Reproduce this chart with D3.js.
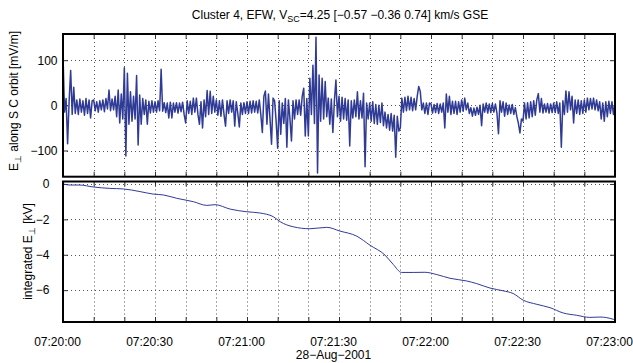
<!DOCTYPE html>
<html>
<head>
<meta charset="utf-8">
<script src="https://cdn.jsdelivr.net/npm/d3@7"></script>
<style>
  body { margin: 0; background: #fff; }
  text { font-family: "Liberation Sans", Arial, sans-serif; fill: #000; }
</style>
</head>
<body>
<div id="chart"></div>
<script>
// E-field along SC orbit [mV/m], one sample every 0.5 s from 07:20:00
var eStep = 0.5;
var eField = [
  112, -15, 15, -85, 10, 77, -20, 40, -18, 12, -20, 14, -15, 10, -22, 15, -18, 12, -28, 10,
  12, -12, 8, -15, 10, -10, 12, -14, 15, -8, 34, -12, 14, -10, 20, -25, 34, -39, 25, -30,
  83, -112, 71, -42, 30, -35, 20, -30, 66, -88, 23, -42, 15, -20, 12, -42, 9, -17, 10, -15,
  8, -15, 10, -12, 80, -13, 6, -16, 5, -28, 7, -28, 5, -15, 6, -17, 5, -14, 7, -20,
  -39, 10, -18, 9, -20, 16, -15, 16, -20, -42, 8, -50, 12, -25, 33, -20, 31, -18, 20, -15,
  12, -22, 10, -24, 12, -20, -46, 10, -18, 12, -15, 10, -46, 8, -18, -48, 5, -20, 6, -18,
  8, -18, 9, -17, 10, -15, 9, -17, 12, -20, -60, 20, 32, -42, 25, -30, -86, 16, 10, -35,
  -95, 10, -64, 5, -40, 15, -93, 12, -30, -79, 10, -30, 12, -20, 12, -22, 20, 38, -68, 15,
  -68, 60, -20, 89, -40, 151, -150, 67, -35, 60, -30, 53, -25, 16, -42, 14, -60, 10, 56, -25,
  20, -35, 18, -30, 15, -33, 12, -90, 10, -28, 12, -25, 30, -30, 10, -28, 27, -136, 5, -30,
  5, -35, 8, -40, 2, -42, 0, -38, 5, -45, -15, -50, -20, -55, -18, -57, -22, -115, -24, -57,
  -50, 16, -15, 18, -12, 20, -10, 18, -12, 15, -10, 20, 42, 31, -10, 5, -18, 5, -20, 5,
  3, -17, 2, -16, 4, -18, 3, -15, 5, -50, 25, -15, 20, -20, 9, -18, 9, -20, 8, -15,
  12, -13, 16, -10, 5, -18, -5, -24, -6, -22, -4, -20, 0, -45, 3, -15, 5, -17, 3, -16,
  4, -15, 3, -17, -63, 10, -15, 8, -24, 5, -20, 1, -18, 2, -20, -5, -25, -40, -61, -30,
  -35, 5, -30, 6, -28, 8, -25, 10, -22, 12, 26, -15, 15, -17, 3, -15, 4, -17, 3, -16,
  5, -16, 8, -18, 5, -93, 10, -20, 32, -15, 30, -10, 20, -39, 12, -18, 12, -20, 10, -18,
  12, -15, 16, -10, 15, -8, 16, -10, 12, -12, 8, -30, 5, -35, 8, -25, 9, -18, 8, -20, 5
];

// integrated E [kV], seconds after 07:20:00
var intTime = [0, 2.3, 5.5, 9.9, 15.3, 19.7, 25.1, 29.4, 32.7, 37.1, 42.5, 46.9, 49.6, 54.5,
  59.9, 64.2, 68.6, 70.8, 75.1, 80.5, 86, 90.3, 95.8, 100.1, 105, 107.7, 110.4, 114.2, 118,
  121.9, 126.2, 131.6, 134.9, 139.2, 143.6, 146.8, 150.1, 154.5, 158.8, 163.1, 167.5, 171.8,
  175.1, 179.5, 180];
var intField = [0, -0.06, -0.06, -0.17, -0.25, -0.28, -0.43, -0.57, -0.62, -0.81, -1.0, -1.21,
  -1.17, -1.42, -1.57, -1.64, -1.85, -2.13, -2.42, -2.53, -2.45, -2.66, -2.95, -3.46, -4.02,
  -4.55, -5.0, -5.0, -4.99, -5.12, -5.33, -5.48, -5.63, -5.88, -6.04, -6.19, -6.57, -6.8,
  -6.99, -7.29, -7.42, -7.54, -7.52, -7.65, -7.68];

var topTicks = [-100, 0, 100];
var botTicks = [-6, -4, -2, 0];
var xLabelSeconds = [0, 30, 60, 90, 120, 150, 180];
var dateLabel = "28\u2212Aug\u22122001";

var t0 = Date.UTC(2001, 7, 28, 7, 20, 0);
function toTime(s) { return new Date(t0 + s * 1000); }

var width = 633, height = 363;
var left = 63, right = 615;
var top1 = 34, bot1 = 176.7, top2 = 181.5, bot2 = 322;
var lineColor = "#2f3b95";

var svg = d3.select("#chart")
  .append("svg")
  .attr("width", width)
  .attr("height", height);

var x = d3.scaleUtc()
  .domain([toTime(0), toTime(180)])
  .range([left, right]);

var y1 = d3.scaleLinear().domain([-158, 158]).range([bot1, top1]);
var y2 = d3.scaleLinear().domain([-7.8, 0.14]).range([bot2, top2]);

var every10 = d3.utcSecond.every(10);
var xTicks = x.ticks(every10);
var labelSet = new Set(xLabelSeconds.map(s => +toTime(s)));

function panel(y, yTicks, yTop, yBot, labelPad, clipId) {
  var g = svg.append("g");

  // dotted grid
  g.selectAll(".vgrid")
    .data(xTicks.slice(1, -1))
    .enter().append("line")
    .attr("x1", d => Math.round(x(d)) + 0.5)
    .attr("x2", d => Math.round(x(d)) + 0.5)
    .attr("y1", yTop).attr("y2", yBot)
    .attr("stroke", "#555")
    .attr("stroke-dasharray", "1,3");

  g.selectAll(".hgrid")
    .data(yTicks)
    .enter().append("line")
    .attr("x1", left).attr("x2", right)
    .attr("y1", d => Math.round(y(d)) + 0.5)
    .attr("y2", d => Math.round(y(d)) + 0.5)
    .attr("stroke", "#555")
    .attr("stroke-dasharray", "1,3");

  // inward ticks on all four sides
  var ax = g.append("g").attr("transform", "translate(0," + yBot + ")")
    .call(d3.axisBottom(x).ticks(every10).tickSize(-5).tickSizeOuter(0).tickFormat(""));
  var axT = g.append("g").attr("transform", "translate(0," + yTop + ")")
    .call(d3.axisTop(x).ticks(every10).tickSize(-5).tickSizeOuter(0).tickFormat(""));
  var ayL = g.append("g").attr("transform", "translate(" + left + ",0)")
    .call(d3.axisLeft(y).tickValues(yTicks).tickSize(-5).tickSizeOuter(0)
      .tickPadding(labelPad).tickFormat(d3.format("d")));
  var ayR = g.append("g").attr("transform", "translate(" + right + ",0)")
    .call(d3.axisRight(y).tickValues(yTicks).tickSize(-5).tickSizeOuter(0).tickFormat(""));

  [ax, axT, ayL, ayR].forEach(a => {
    a.select(".domain").remove();
    a.selectAll("line").attr("stroke", "#333");
  });
  ayL.selectAll("text")
    .style("font-size", "12px")
    .style("font-family", "'Liberation Sans', Arial, sans-serif")
    .attr("fill", "#000");

  svg.append("clipPath").attr("id", clipId)
    .append("rect")
    .attr("x", left).attr("y", yTop)
    .attr("width", right - left).attr("height", yBot - yTop);

  return { g: g, bottomAxis: ax };
}

var p1 = panel(y1, topTicks, top1, bot1, 5.5, "clip1");
var p2 = panel(y2, botTicks, top2, bot2, 13.5, "clip2");

// E-field trace
var eLine = d3.line()
  .x((d, i) => x(toTime(i * eStep)))
  .y(d => y1(d));

p1.g.append("path")
  .datum(eField)
  .attr("clip-path", "url(#clip1)")
  .attr("fill", "none")
  .attr("stroke", lineColor)
  .attr("stroke-width", 1.5)
  .attr("stroke-linejoin", "round")
  .attr("d", eLine);

// integrated trace
var intLine = d3.line()
  .x((d, i) => x(toTime(intTime[i])))
  .y(d => y2(d))
  .curve(d3.curveMonotoneX);

p2.g.append("path")
  .datum(intField)
  .attr("clip-path", "url(#clip2)")
  .attr("fill", "none")
  .attr("stroke", lineColor)
  .attr("stroke-width", 1)
  .attr("d", intLine);

// x tick labels under the bottom panel
var fmt = d3.utcFormat("%H:%M:%S");
svg.append("g")
  .selectAll("text")
  .data(xTicks.filter(d => labelSet.has(+d)))
  .enter().append("text")
  .attr("x", d => x(d) - 5.5)
  .attr("y", bot2 + 23.5)
  .attr("text-anchor", "middle")
  .style("font-size", "12px")
  .text(d => fmt(d));

svg.append("text")
  .attr("x", 333.5)
  .attr("y", 359)
  .attr("text-anchor", "middle")
  .style("font-size", "12px")
  .text(dateLabel);

// boxes
[[top1, bot1], [top2, bot2]].forEach(b => {
  svg.append("rect")
    .attr("x", left).attr("y", b[0])
    .attr("width", right - left).attr("height", b[1] - b[0])
    .attr("fill", "none")
    .attr("stroke", "#000")
    .attr("stroke-width", 2);
});

// title
var title = svg.append("text")
  .attr("x", 340)
  .attr("y", 19)
  .attr("text-anchor", "middle")
  .style("font-size", "12px");
title.append("tspan").text("Cluster 4, EFW, V");
title.append("tspan").attr("dy", 3).style("font-size", "9px").text("SC");
title.append("tspan").attr("dy", -3).text("=4.25 [\u22120.57 \u22120.36 0.74] km/s GSE");

// y labels
var yl1 = svg.append("text")
  .attr("transform", "translate(18,101) rotate(-90)")
  .attr("text-anchor", "middle")
  .style("font-size", "12px");
yl1.append("tspan").text("E");
yl1.append("tspan").attr("dy", 3).style("font-size", "9px").text("\u22a5");
yl1.append("tspan").attr("dy", -3).text(" along S C orbit [mV/m]");

var yl2 = svg.append("text")
  .attr("transform", "translate(31.5,251.5) rotate(-90)")
  .attr("text-anchor", "middle")
  .style("font-size", "12px");
yl2.append("tspan").text("integrated E");
yl2.append("tspan").attr("dy", 3).style("font-size", "9px").text("\u22a5");
yl2.append("tspan").attr("dy", -3).text(" [kV]");
</script>
</body>
</html>
